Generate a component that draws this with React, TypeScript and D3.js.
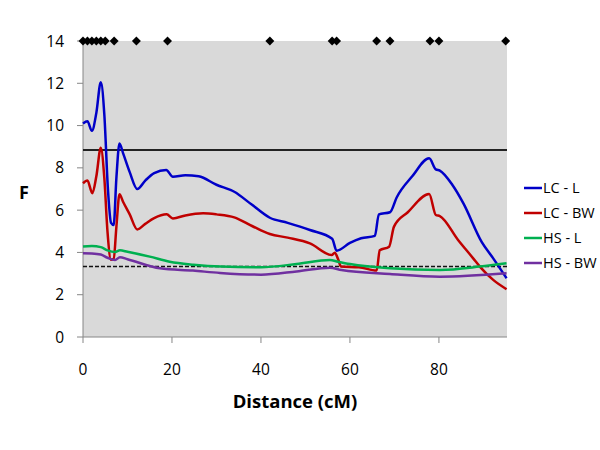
import React from "react";
import * as d3 from "d3";

// [distance (cM), F]
const lcL: [number, number][] = [
  [0, 10.1], [1, 10.2], [2, 9.75], [3, 10.6], [4, 12.05], [4.8, 10.5], [5.6, 7], [6.3, 5.4],
  [6.9, 5.3], [7.5, 7.5], [8.2, 9.15], [9, 8.7], [10.5, 7.8], [12.2, 7.0], [14, 7.4], [16, 7.75],
  [18.7, 7.9], [20.2, 7.58], [23, 7.65], [26, 7.6], [30, 7.2], [34, 6.87], [38, 6.25], [42, 5.64],
  [46, 5.4], [51, 5.06], [56, 4.65], [57, 4.08], [60, 4.45], [62.5, 4.67], [65.6, 4.78], [66.5, 5.8],
  [69, 5.9], [70.5, 6.6], [74, 7.6], [77.8, 8.45], [79.3, 7.93], [80.2, 7.87], [83, 7.2],
  [85.5, 6.32], [89.6, 4.5], [92.2, 3.72], [95.2, 2.78],
];
const lcBW: [number, number][] = [
  [0, 7.27], [1, 7.4], [2.1, 6.8], [3, 7.6], [4, 8.95], [4.8, 7.5], [5.5, 5], [6.3, 3.65],
  [6.9, 3.7], [7.5, 5.2], [8.2, 6.75], [9, 6.4], [10.5, 5.8], [12.2, 5.09], [14, 5.35], [16, 5.62],
  [18.8, 5.8], [20.2, 5.61], [23, 5.75], [27, 5.85], [30, 5.8], [34, 5.66], [38, 5.25], [42, 4.87],
  [46, 4.7], [51, 4.43], [55.9, 3.88], [56.6, 3.99], [57.4, 3.64], [58, 3.33], [62, 3.3], [66, 3.14],
  [66.7, 4.1], [68.8, 4.27], [69.9, 5.22], [73, 5.9], [77.8, 6.76], [79.3, 5.77], [80.2, 5.72],
  [84.3, 4.59], [87.7, 3.72], [89.2, 3.33], [92.2, 2.7], [95.2, 2.26],
];
const hsL: [number, number][] = [
  [0, 4.28], [2, 4.3], [4, 4.25], [5.5, 4.1], [7.2, 4.02], [8.3, 4.1], [10, 4.03], [15, 3.8],
  [19.5, 3.56], [24.8, 3.42], [31, 3.33], [40, 3.3], [48, 3.45], [55.5, 3.64], [57.3, 3.56],
  [60, 3.45], [69, 3.25], [80.2, 3.17], [89.2, 3.33], [95.2, 3.49],
];
const hsBW: [number, number][] = [
  [0, 3.96], [2, 3.95], [4, 3.9], [5.5, 3.75], [7.2, 3.64], [8.3, 3.77], [10, 3.68], [17.3, 3.25],
  [24.7, 3.14], [30.8, 3.03], [40, 2.95], [48, 3.1], [55.5, 3.28], [58.1, 3.17], [69, 2.98],
  [80.2, 2.85], [95.2, 3.01],
];
const markers = [0, 1, 2, 3, 4, 5, 7, 12, 19, 42, 56, 57, 66, 69, 78, 80, 95];
const markerF = 14;
const threshold = 8.85;
const thresholdLow = 3.33;
const xTicks = [0, 20, 40, 60, 80];
const yTicks = [0, 2, 4, 6, 8, 10, 12, 14];

const series = [
  { name: "LC - L", data: lcL, color: "#0000c8" },
  { name: "LC - BW", data: lcBW, color: "#c00000" },
  { name: "HS - L", data: hsL, color: "#00b050" },
  { name: "HS - BW", data: hsBW, color: "#7030a0" },
];

const font = "'Open Sans', 'Noto Sans', sans-serif";

export default function App() {
  const left = 83, right = 507, top = 41, bottom = 337;
  const x = d3.scaleLinear().domain([0, 95.3]).range([left, right]);
  const y = d3.scaleLinear().domain([0, 14]).range([bottom, top]);
  const line = d3
    .line<[number, number]>()
    .x((d) => x(d[0]))
    .y((d) => y(d[1]))
    .curve(d3.curveMonotoneX);
  const diamond = d3.symbol(d3.symbolSquare, 40)();

  return (
    <svg width={600} height={450} style={{ position: "absolute", left: 0, top: 0, fontFamily: font }}>
      <rect x={0} y={0} width={600} height={450} fill="#fff" />
      <rect x={left} y={top} width={right - left} height={bottom - top} fill="#d9d9d9" />
      {/* axes */}
      <line x1={left} x2={left} y1={top} y2={bottom} stroke="#868686" />
      <line x1={left} x2={right} y1={bottom} y2={bottom} stroke="#868686" />
      {yTicks.map((t) => (
        <g key={"y" + t}>
          <line x1={left - 6} x2={left} y1={y(t)} y2={y(t)} stroke="#868686" />
          <text x={64} y={y(t) + 5.5} textAnchor="end" fontSize={15.5} fill="#000">
            {t}
          </text>
        </g>
      ))}
      {xTicks.map((t) => (
        <g key={"x" + t}>
          <line x1={x(t)} x2={x(t)} y1={bottom} y2={bottom + 6} stroke="#868686" />
          <text x={x(t)} y={375} textAnchor="middle" fontSize={15.5} fill="#000">
            {t}
          </text>
        </g>
      ))}
      <text x={24} y={199} textAnchor="middle" fontSize={18} fontWeight="bold">
        F
      </text>
      <text x={(left + right) / 2} y={408} textAnchor="middle" fontSize={18.5} fontWeight="bold">
        Distance (cM)
      </text>
      {/* thresholds */}
      <line x1={left} x2={right} y1={y(threshold)} y2={y(threshold)} stroke="#222" strokeWidth={2} />
      <line
        x1={left}
        x2={right}
        y1={y(thresholdLow)}
        y2={y(thresholdLow)}
        stroke="#111"
        strokeWidth={1.5}
        strokeDasharray="4,2"
      />
      {/* series */}
      {series.map((s) => (
        <path key={s.name} d={line(s.data) || ""} fill="none" stroke={s.color} strokeWidth={2.5} strokeLinejoin="round" />
      ))}
      {/* markers */}
      {markers.map((m, i) => (
        <path key={"m" + i} d={diamond || ""} transform={`translate(${x(m)},${y(markerF)}) rotate(45)`} fill="#000" />
      ))}
      {/* legend */}
      {series.map((s, i) => {
        const ly = 188 + i * 25;
        return (
          <g key={"l" + s.name}>
            <line x1={524} x2={542} y1={ly} y2={ly} stroke={s.color} strokeWidth={2.5} />
            <text x={543} y={ly + 5} fontSize={14.5} fill="#000">
              {s.name}
            </text>
          </g>
        );
      })}
    </svg>
  );
}
